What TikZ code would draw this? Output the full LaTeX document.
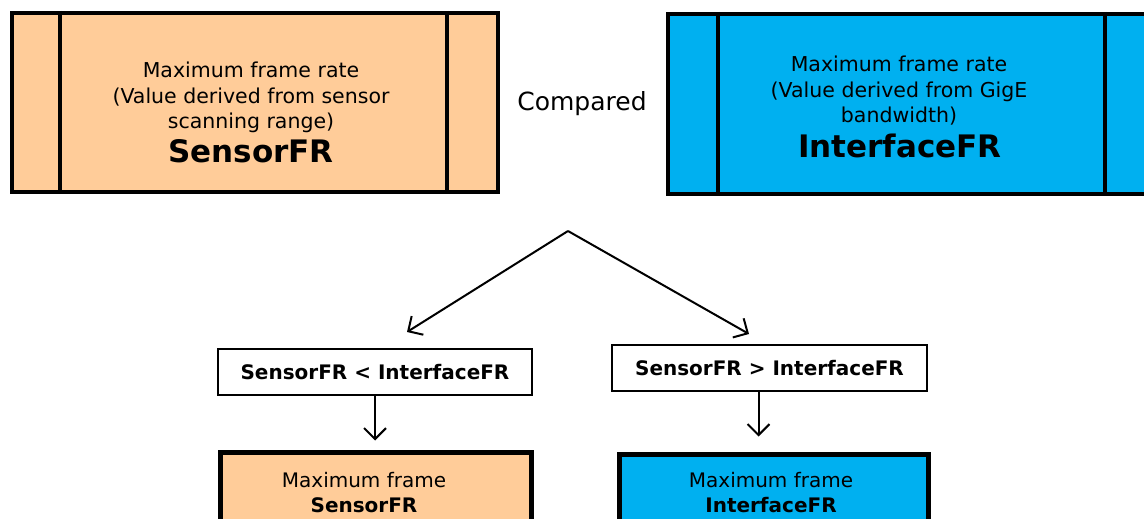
\documentclass[tikz,border=0pt]{standalone}
\usepackage{fontspec}
\setmainfont{DejaVu Sans}
\usetikzlibrary{arrows.meta}
\definecolor{peach}{HTML}{FFCC99}
\definecolor{gigeblue}{HTML}{00B0F0}
\tikzset{
	procbox/.style={draw, line width=4pt, minimum width=486pt, minimum height=179pt, inner sep=0pt},
	desc/.style={inner sep=0pt, align=center, font=\fontsize{20.5}{25.5}\selectfont},
	frname/.style={inner sep=0pt, font=\fontsize{31}{36}\selectfont\bfseries},
	casebox/.style={draw, fill=white, line width=2pt, minimum width=314pt, minimum height=46pt, inner sep=0pt, font=\fontsize{20}{24}\selectfont\bfseries},
	resultbox/.style={draw, line width=5pt, minimum width=311pt, minimum height=120pt, inner sep=0pt},
	result/.style={inner sep=0pt, align=center, font=\fontsize{20}{25}\selectfont},
	flow/.style={line width=2pt, -{Straight Barb[length=11pt,width=22pt]}}
}
\begin{document}
\begin{tikzpicture}[x=1pt,y=-1pt]
	\useasboundingbox (0,0) rectangle (1144,519);
	\clip (0,0) rectangle (1144,519);
	% compared values
	\node (sensorbox) [procbox, fill=peach] at (255,102.5) {};
	\draw [line width=4pt] ([xshift=50pt]sensorbox.north west) -- ([xshift=50pt]sensorbox.south west);
	\draw [line width=4pt] ([xshift=-53pt]sensorbox.north east) -- ([xshift=-53pt]sensorbox.south east);
	\node (sensordesc) [desc, anchor=north] at (251,62) {Maximum frame rate\\(Value derived from sensor\\scanning range)};
	\node (sensorname) [frname, anchor=base] at (251,162) {SensorFR};
	\node (ifbox) [procbox, fill=gigeblue, minimum width=487pt, minimum height=180pt] at (911.5,104) {};
	\draw [line width=4pt] ([xshift=52pt]ifbox.north west) -- ([xshift=52pt]ifbox.south west);
	\draw [line width=4pt] ([xshift=-52pt]ifbox.north east) -- ([xshift=-52pt]ifbox.south east);
	\node (ifdesc) [desc, anchor=north] at (899,56) {Maximum frame rate\\(Value derived from GigE\\bandwidth)};
	\node (ifname) [frname, anchor=base] at (900,157) {InterfaceFR};
	\node (compared) [font=\fontsize{25}{30}\selectfont] at (582,104) {Compared};
	% cases
	\coordinate (split) at (568,231);
	\coordinate (lttip) at (407,332);
	\coordinate (gttip) at (749,334);
	\node (ltbox) [casebox] at (375,372) {SensorFR < InterfaceFR};
	\node (gtbox) [casebox, minimum width=315pt] at (769.5,368) {SensorFR > InterfaceFR};
	\draw [flow] (split) -- (lttip);
	\draw [flow] (split) -- (gttip);
	% results
	\node (ltres) [resultbox, fill=peach] at (376,512) {};
	\node (gtres) [resultbox, fill=gigeblue, minimum width=309pt] at (773.5,514) {};
	\node (ltrestext) [result, anchor=north] at (364,472) {Maximum frame\\\textbf{SensorFR}};
	\node (gtrestext) [result, anchor=north] at (771,472) {Maximum frame\\\textbf{InterfaceFR}};
	\draw [flow, shorten >=9pt] (ltbox.south) -- (ltbox.south |- ltres.north);
	\draw [flow, shorten >=15pt] ([xshift=-11pt]gtbox.south) -- ([xshift=-11pt]gtbox.south |- gtres.north);
\end{tikzpicture}
\end{document}
